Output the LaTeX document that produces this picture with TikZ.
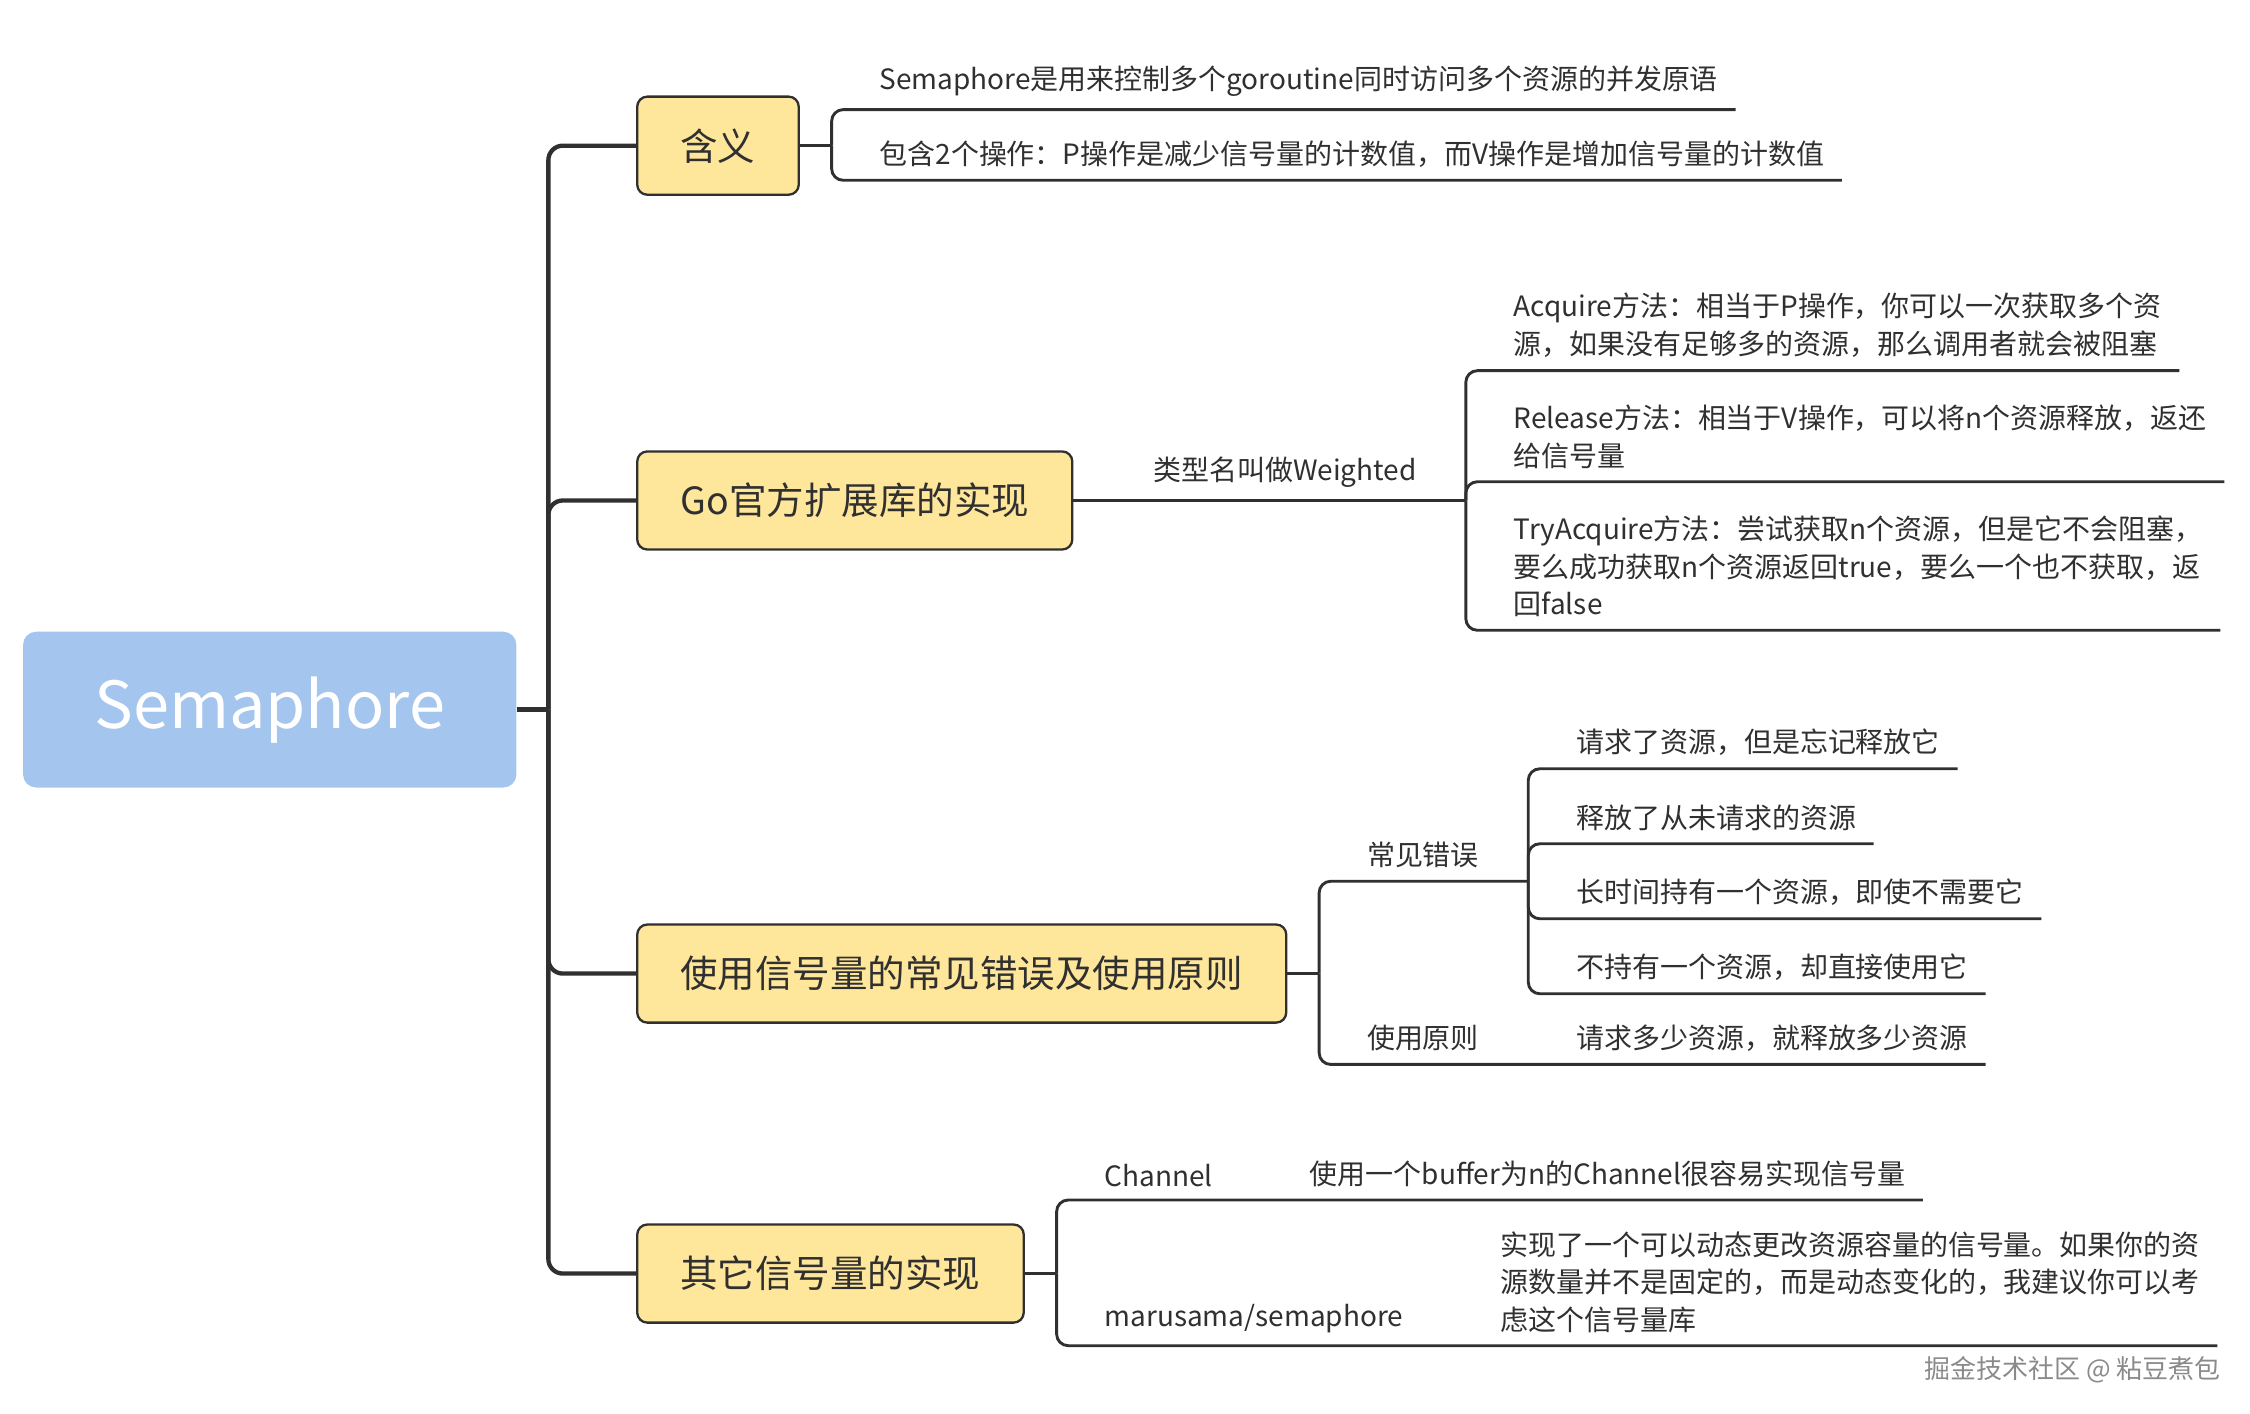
\documentclass[tikz,border=0pt]{standalone}
\usepackage{fontspec}
\setmainfont{Noto Sans CJK SC}
\usetikzlibrary{positioning}

\definecolor{rootblue}{HTML}{A4C6EE}
\definecolor{topicyellow}{HTML}{FEE69B}
\definecolor{ink}{HTML}{303030}
\definecolor{markgray}{HTML}{8A8A8A}

\begin{document}
\begin{tikzpicture}[x=1pt, y=1pt, node distance=22pt, text=ink,
  root/.style={rectangle, fill=rootblue, rounded corners=9pt, minimum width=342pt, minimum height=108pt, text=white, font=\fontsize{45}{54}\selectfont},
  topic/.style={rectangle, draw=ink, line width=1.6pt, fill=topicyellow, rounded corners=7pt, anchor=west, minimum height=68pt, inner xsep=30pt, font=\fontsize{26}{32}\selectfont},
  leaf/.style={anchor=south west, xshift=21pt, inner xsep=12pt, inner ysep=9pt, align=left, font=\fontsize{19.4}{26}\selectfont},
  trunk/.style={draw=ink, line width=3pt, rounded corners=10pt},
  twig/.style={draw=ink, line width=2pt, rounded corners=8pt}]
  \useasboundingbox (0,0) rectangle (1560,-980);

  \node[root] (root) at (187,-492) {Semaphore};
  \coordinate[right=of root] (hub);

  \node[topic] (meaning) at (441,-101) {含义};
  \node[topic] (goext) at (441,-347) {Go官方扩展库的实现};
  \node[topic] (misuse) at (441,-675) {使用信号量的常见错误及使用原则};
  \node[topic] (others) at (441,-883) {其它信号量的实现};

  % meaning
  \coordinate[right=of meaning] (meaningfork);
  \node[leaf] (m1) at ([yshift=25pt]meaningfork) {Semaphore是用来控制多个goroutine同时访问多个资源的并发原语};
  \node[leaf] (m2) at ([yshift=-24pt]meaningfork) {包含2个操作：P操作是减少信号量的计数值，而V操作是增加信号量的计数值};

  % x/sync/semaphore
  \coordinate[right=of goext] (gofork);
  \node[leaf] (weighted) at (gofork) {类型名叫做Weighted};
  \coordinate[right=of weighted.south east] (weightedfork);
  \node[leaf] (acquire) at ([yshift=90pt]weightedfork) {Acquire方法：相当于P操作，你可以一次获取多个资\\源，如果没有足够多的资源，那么调用者就会被阻塞};
  \node[leaf] (release) at ([yshift=13pt]weightedfork) {Release方法：相当于V操作，可以将n个资源释放，返还\\给信号量};
  \node[leaf] (tryacq) at ([yshift=-90pt]weightedfork) {TryAcquire方法：尝试获取n个资源，但是它不会阻塞，\\要么成功获取n个资源返回true，要么一个也不获取，返\\回false};

  % pitfalls
  \coordinate[right=of misuse] (misusefork);
  \node[leaf] (errors) at ([yshift=64pt]misusefork) {常见错误};
  \node[leaf] (rules) at ([yshift=-63pt]misusefork) {使用原则};
  \coordinate[right=of errors.south east] (errorsfork);
  \node[leaf] (err1) at ([yshift=78pt]errorsfork) {请求了资源，但是忘记释放它};
  \node[leaf] (err2) at ([yshift=26pt]errorsfork) {释放了从未请求的资源};
  \node[leaf] (err3) at ([yshift=-26pt]errorsfork) {长时间持有一个资源，即使不需要它};
  \node[leaf] (err4) at ([yshift=-78pt]errorsfork) {不持有一个资源，却直接使用它};
  \coordinate[right=of rules.south east] (rulesfork);
  \node[leaf] (rule1) at (rulesfork) {请求多少资源，就释放多少资源};

  % other implementations
  \coordinate[right=of others] (othersfork);
  \node[leaf] (chan) at ([yshift=51pt]othersfork) {Channel};
  \node[leaf] (maru) at ([yshift=-50pt]othersfork) {marusama/semaphore};
  \coordinate[right=of chan.south east] (chanfork);
  \node[leaf] (chan1) at (chanfork) {使用一个buffer为n的Channel很容易实现信号量};
  \coordinate[right=of maru.south east] (marufork);
  \node[leaf] (maru1) at (marufork) {实现了一个可以动态更改资源容量的信号量。如果你的资\\源数量并不是固定的，而是动态变化的，我建议你可以考\\虑这个信号量库};

  \node[anchor=east, text=markgray, font=\fontsize{18}{22}\selectfont] (mark) at (1543,-950) {掘金技术社区 @ 粘豆煮包};

  % connectors
  \draw[trunk] (root.east) -- (hub);
  \foreach \t in {meaning, goext, misuse, others}
    \draw[trunk] (hub) |- (\t.west);

  \draw[twig] (meaning.east) -- (meaningfork);
  \foreach \l in {m1, m2}
    \draw[twig] (meaningfork) |- (\l.south east);

  \draw[twig] (goext.east) -- (weightedfork);
  \foreach \l in {acquire, release, tryacq}
    \draw[twig] (weightedfork) |- (\l.south east);

  \draw[twig] (misuse.east) -- (misusefork);
  \draw[twig] (misusefork) |- (errors.south east) -- (errorsfork);
  \draw[twig] (misusefork) |- (rules.south east) -- (rule1.south east);
  \foreach \i in {1,...,4}
    \draw[twig] (errorsfork) |- (err\i.south east);

  \draw[twig] (others.east) -- (othersfork);
  \draw[twig] (othersfork) |- (chan.south east) -- (chan1.south east);
  \draw[twig] (othersfork) |- (maru.south east) -- (maru1.south east);
\end{tikzpicture}
\end{document}
